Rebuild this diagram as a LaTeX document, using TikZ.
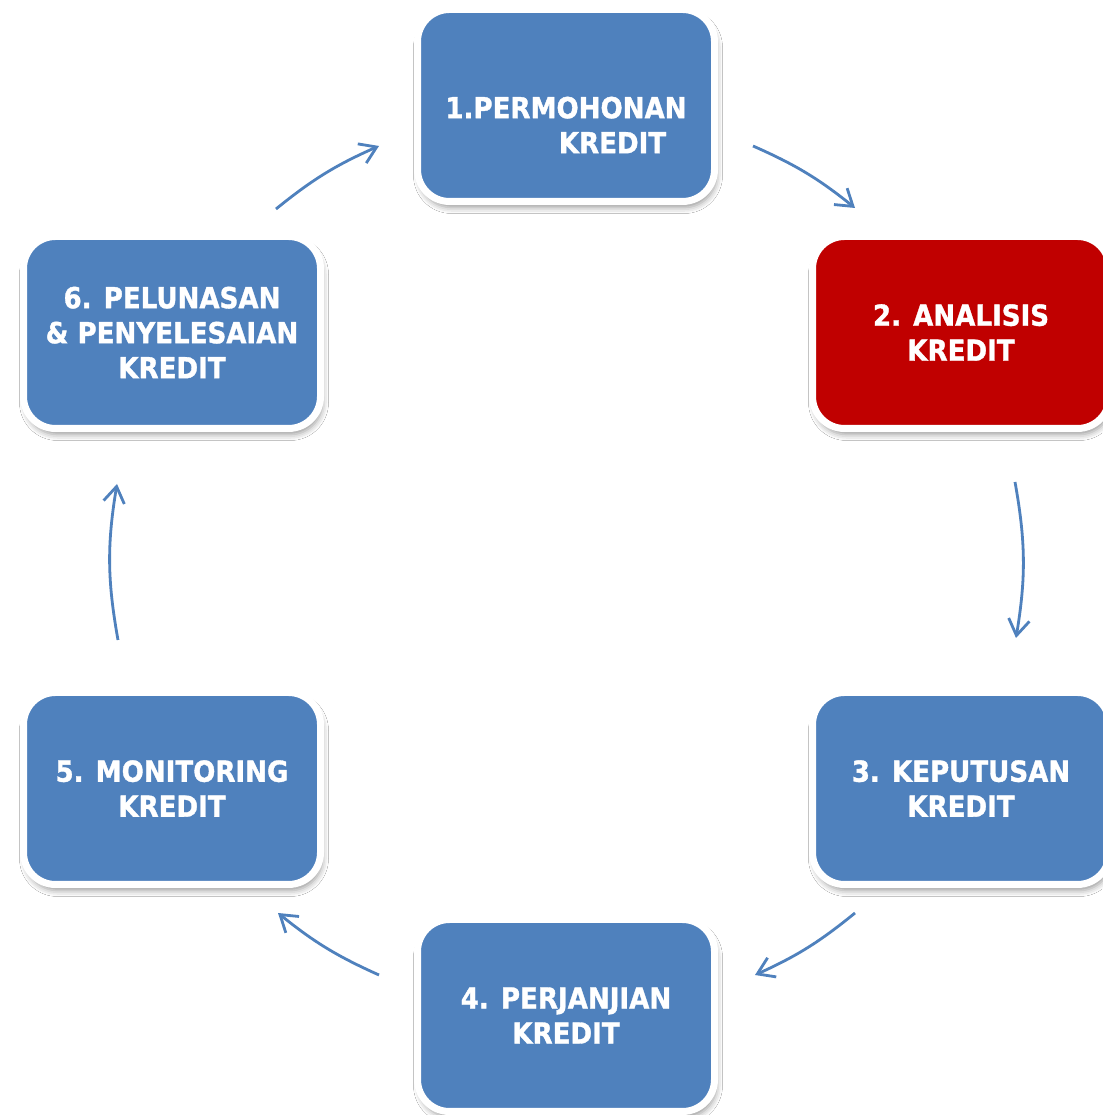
\documentclass[tikz,border=0pt]{standalone}
\usepackage{fontspec}
\setmainfont{DejaVu Sans}[FakeStretch=0.9, BoldFeatures={FakeStretch=0.9, FakeBold=1.2}]
\usetikzlibrary{arrows.meta,shadows.blur}
\definecolor{boxblue}{HTML}{4F81BD}
\definecolor{boxred}{HTML}{C00000}
\begin{document}
\begin{tikzpicture}[x=1pt,y=1pt,
  box/.style={draw=white, line width=7pt, fill=boxblue, rounded corners=32pt,
    minimum width=297pt, minimum height=192pt, inner sep=0pt,
    blur shadow={shadow xshift=2pt, shadow yshift=-6pt, shadow blur radius=6pt, shadow opacity=40}},
  txt/.style={text=white, font=\fontsize{29}{35}\selectfont\bfseries, align=center},
  arr/.style={draw=boxblue, line width=2.8pt, -{Straight Barb[length=16pt,width=21pt]}}]
\useasboundingbox (0,0) rectangle (1102,1115);
\fill[white] (0,0) rectangle (1102,1115);

\node[box] (b1) at (566,1009.5) {};
\node[txt] (t1) at ([yshift=-19.5pt]b1.center) {1.PERMOHONAN\\\hspace*{93pt}KREDIT};
\node[box, fill=boxred, txt] (b2) at (961,782.5) {2. ANALISIS\\KREDIT};
\node[box, txt] (b3) at (961,326.5) {3. KEPUTUSAN\\KREDIT};
\node[box, txt] (b4) at (566,99.5) {4. PERJANJIAN\\KREDIT};
\node[box, txt] (b5) at (172,326.5) {5. MONITORING\\KREDIT};
\node[box, txt] (b6) at (172,782.5) {6. PELUNASAN\\\& PENYELESAIAN\\KREDIT};

\coordinate (a1s) at (753,969);  \coordinate (a1e) at (855,907);
\coordinate (a2s) at (1015,633); \coordinate (a2e) at (1016,477);
\coordinate (a3s) at (855,202);  \coordinate (a3e) at (755,140);
\coordinate (a4s) at (379,140);  \coordinate (a4e) at (278,202);
\coordinate (a5s) at (118,475);  \coordinate (a5e) at (117,631);
\coordinate (a6s) at (276,906);  \coordinate (a6e) at (379,969);

\draw[arr] (a1s) to[bend left=7.5] (a1e);
\draw[arr] (a2s) to[bend left=9.8] (a2e);
\draw[arr] (a3s) to[bend left=7.4] (a3e);
\draw[arr] (a4s) to[bend left=7.4] (a4e);
\draw[arr] (a5s) to[bend left=9.8] (a5e);
\draw[arr] (a6s) to[bend left=7.6] (a6e);
\end{tikzpicture}
\end{document}
